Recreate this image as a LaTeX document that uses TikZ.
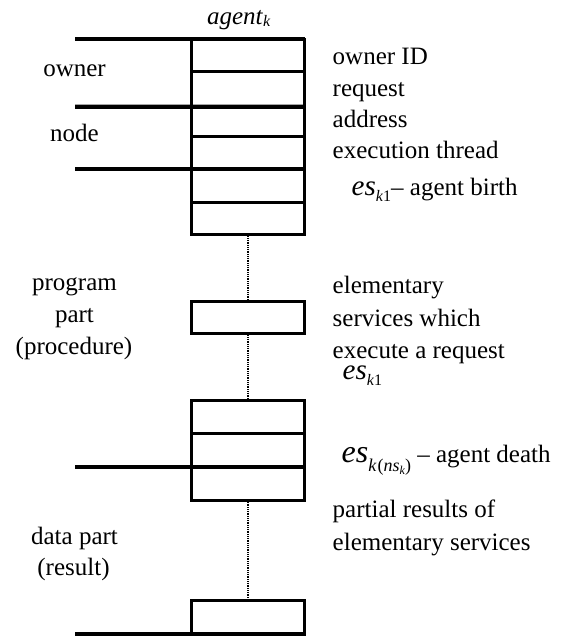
\documentclass[tikz,border=0pt]{standalone}
\usepackage{fontspec}
\setmainfont{Liberation Serif}
% italic "es" followed by its subscript
\newcommand\esbig[2]{{\fontsize{#1}{#1}\selectfont\itshape es}#2}
\begin{document}
\begin{tikzpicture}[x=1pt,y=-1pt,
  cell/.style={draw,line width=3pt,minimum width=113.3pt,inner sep=0pt,outer sep=0pt},
  bar/.style={line width=4.3pt},
  link/.style={line width=2pt,dash pattern=on 1pt off 0.8pt},
  lbl/.style={inner sep=0pt,outer sep=0pt,font=\fontsize{25}{30}\selectfont},
  ]
\useasboundingbox (0,0) rectangle (560,637);

% agent header block
\node[cell,minimum height=31.7pt] (c1) at (248.3,55.15) {};
\node[cell,minimum height=35.7pt] (c2) at (248.3,88.85) {};
\node[cell,minimum height=29.3pt] (c3) at (248.3,121.35) {};
\node[cell,minimum height=33.3pt] (c4) at (248.3,152.65) {};
\node[cell,minimum height=33pt]   (c5) at (248.3,185.8) {};
\node[cell,minimum height=32pt]   (c6) at (248.3,218.3) {};
% program part
\node[cell,minimum height=31.6pt] (p)  at (248.3,317.5) {};
\node[cell,minimum height=32.6pt] (d1) at (248.3,417) {};
\node[cell,minimum height=34pt]   (d2) at (248.3,450.3) {};
\node[cell,minimum height=32.7pt] (d3) at (248.3,483.65) {};
% data part
\node[cell,minimum height=33.3pt] (r1) at (248.3,617.35) {};

% section separators
\coordinate (b1) at (75,39.3);
\coordinate (b2) at (75,106.7);
\coordinate (b3) at (75,169.3);
\coordinate (b4) at (75,467.3);
\coordinate (b5) at (75,634);
\draw[bar] (b1) -- (c1.north east);
\draw[bar] (b2) -- (c3.north east);
\draw[bar] (b3) -- (c5.north east);
\draw[bar] (b4) -- (d3.north east);
\draw[bar] (b5) -- (r1.south east);

% omitted cells
\draw[link] (c6.south) -- (p.north);
\draw[link] (p.south) -- (d1.north);
\draw[link] (d3.south) -- (r1.north);

% header
\node[lbl,anchor=base west] (agent) at (207,24)
  {\textit{agent}\raisebox{-2.5pt}{\fontsize{16}{16}\selectfont\textit{k}}};

% left labels
\node[lbl,anchor=base] (owner) at (74.5,76) {owner};
\node[lbl,anchor=base] (nodel) at (74.5,141.7) {node};
\node[lbl,anchor=base] (prog1) at (74.5,290.7) {program};
\node[lbl,anchor=base] (prog2) at (74.5,322.7) {part};
\node[lbl,anchor=base] (prog3) at (74,354) {(procedure)};
\node[lbl,anchor=base] (data1) at (74.5,544) {data part};
\node[lbl,anchor=base] (data2) at (73.5,575) {(result)};

% right labels
\node[lbl,anchor=base west] (ownid) at (332.7,64) {owner ID};
\node[lbl,anchor=base west] (req)   at (332.7,96.5) {request};
\node[lbl,anchor=base west] (addr)  at (332.7,127) {address};
\node[lbl,anchor=base west] (thr)   at (332.7,158.3) {execution thread};
\node[lbl,anchor=base west] (birth) at (351.7,195)
  {\esbig{29}{\raisebox{-6pt}{\fontsize{16}{16}\selectfont\textit{k}1}}\textendash\ agent birth};
\node[lbl,anchor=base west] (el1) at (332.7,293) {elementary};
\node[lbl,anchor=base west] (el2) at (332.7,326) {services which};
\node[lbl,anchor=base west] (el3) at (332.7,358.3) {execute a request};
\node[lbl,anchor=base west] (esk) at (342.7,379)
  {\esbig{29}{\raisebox{-6pt}{\fontsize{16}{16}\selectfont\textit{k}1}}};
\node[lbl,anchor=base west] (death) at (341.7,462.7)
  {\esbig{32}{\raisebox{-9pt}{\fontsize{18}{18}\selectfont\textit{k}\kern1pt(\textit{ns}\raisebox{-3pt}{\fontsize{12}{12}\selectfont\textit{k}})}}\ \textendash\ agent death};
\node[lbl,anchor=base west] (pr1) at (332.7,517.3) {partial results of};
\node[lbl,anchor=base west] (pr2) at (332.7,550) {elementary services};
\end{tikzpicture}
\end{document}
